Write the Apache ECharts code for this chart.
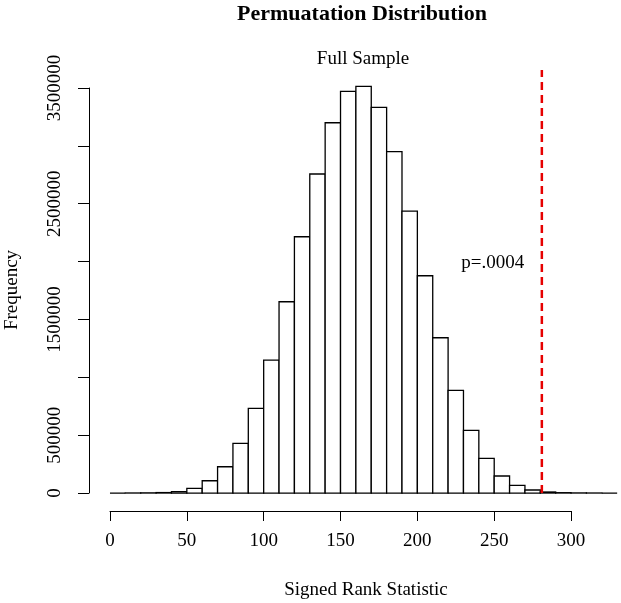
<!DOCTYPE html>
<html>
<head>
<meta charset="utf-8">
<script src="https://cdn.jsdelivr.net/npm/echarts@6/dist/echarts.min.js"></script>
<style>
html, body { margin: 0; padding: 0; background: #fff; }
#main { width: 621px; height: 603px; }
</style>
</head>
<body>
<div id="main"></div>
<script>
var dom = document.getElementById("main");
var myChart = echarts.init(dom);

// 数据
var binStarts = [0, 10, 20, 30, 40, 50, 60, 70, 80, 90, 100, 110, 120, 130, 140, 150, 160,
    170, 180, 190, 200, 210, 220, 230, 240, 250, 260, 270, 280, 290, 300, 310, 320];
var counts = [0, 500, 1500, 4000, 12000, 40000, 106000, 227000, 430000, 732000, 1149000, 1653000,
    2215000, 2757000, 3200000, 3471000, 3515000, 3333000, 2950000, 2437000, 1878000, 1342000,
    888000, 542000, 300000, 147000, 66000, 26000, 9000, 3000, 1000, 300, 0];
var binWidth = 10;
var xTicks = [0, 50, 100, 150, 200, 250, 300];
var yTickLabels = [0, 500000, 1500000, 2500000, 3500000];
var observed = 281;
var pText = 'p=.0004';
var pPos = [249, 1990000];

var font = 'Liberation Serif';
var histData = binStarts.map(function (s, i) { return [s, counts[i]]; });

var option = {
    backgroundColor: '#fff',
    animation: false,
    grid: [
        { left: 89.7, width: 531.3, top: 70, height: 439.3 },   // plot
        { left: 110, width: 461, top: 500, height: 11 },         // x axis
        { left: 89, width: 10, top: 88, height: 405 }            // y axis
    ],
    xAxis: [
        { type: 'value', gridIndex: 0, min: -13.2, max: 332.5, show: false },
        {
            type: 'value', gridIndex: 1, min: xTicks[0], max: xTicks[xTicks.length - 1], interval: 50,
            axisLine: { lineStyle: { color: '#000', width: 1 } },
            axisTick: { length: 10, lineStyle: { color: '#000' } },
            axisLabel: { color: '#000', fontFamily: font, fontSize: 19, margin: 21 },
            splitLine: { show: false }
        },
        { type: 'value', gridIndex: 2, show: false }
    ],
    yAxis: [
        { type: 'value', gridIndex: 0, min: -140600, max: 3656000, show: false },
        { type: 'value', gridIndex: 1, show: false },
        {
            type: 'value', gridIndex: 2, min: 0, max: 3500000, interval: 500000,
            axisLine: { show: true, lineStyle: { color: '#000', width: 1 } },
            axisTick: { show: true, length: 11, lineStyle: { color: '#000' } },
            axisLabel: {
                color: '#000', fontFamily: font, fontSize: 19, rotate: 90, margin: 24,
                formatter: function (v) { return yTickLabels.indexOf(v) >= 0 ? String(v) : ''; }
            },
            splitLine: { show: false }
        }
    ],
    series: [{
        type: 'custom',
        xAxisIndex: 0,
        yAxisIndex: 0,
        data: histData,
        renderItem: function (params, api) {
            var p0 = api.coord([api.value(0), 0]);
            var p1 = api.coord([api.value(0) + binWidth, api.value(1)]);
            return {
                type: 'rect',
                shape: { x: p0[0], y: p1[1], width: p1[0] - p0[0], height: p0[1] - p1[1] },
                style: { fill: '#fff', stroke: '#000', lineWidth: 1.3 }
            };
        }
    }, {
        type: 'line',
        xAxisIndex: 0,
        yAxisIndex: 0,
        symbol: 'none',
        data: [[observed, 0], [observed, 3656000]],
        lineStyle: { color: '#e60000', width: 2.5, type: [8, 5] },
        z: 5
    }, {
        type: 'scatter',
        xAxisIndex: 0,
        yAxisIndex: 0,
        symbolSize: 0,
        itemStyle: { color: '#fff', opacity: 1 },
        data: [pPos],
        label: {
            show: true, position: 'inside', formatter: pText,
            color: '#000', textBorderWidth: 0, fontFamily: font, fontSize: 19
        },
        emphasis: { disabled: true }
    }],
    graphic: [
        { type: 'text', x: 362, y: 14, style: { text: 'Permuatation Distribution', fill: '#000',
            font: 'bold 22px "Liberation Serif"', align: 'center', verticalAlign: 'middle' } },
        { type: 'text', x: 363, y: 59, style: { text: 'Full Sample', fill: '#000',
            font: '19px "Liberation Serif"', align: 'center', verticalAlign: 'middle' } },
        { type: 'text', x: 366, y: 590, style: { text: 'Signed Rank Statistic', fill: '#000',
            font: '19px "Liberation Serif"', align: 'center', verticalAlign: 'middle' } },
        { type: 'text', x: 12, y: 290, rotation: Math.PI / 2, style: { text: 'Frequency', fill: '#000',
            font: '19px "Liberation Serif"', align: 'center', verticalAlign: 'middle' } }
    ]
};

myChart.setOption(option);
</script>
</body>
</html>
